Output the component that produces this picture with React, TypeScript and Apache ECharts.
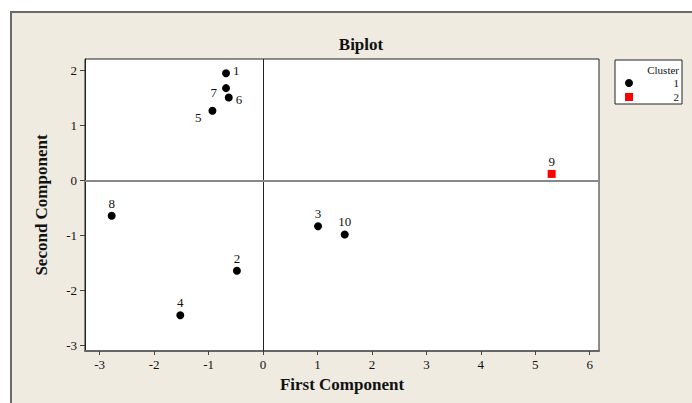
import React, { useEffect, useRef } from "react";
import * as echarts from "echarts";

// ---- data ----
const pointNames = ["1", "2", "3", "4", "5", "6", "7", "8", "9", "10"];
const firstComponent = [-0.68, -0.48, 1.01, -1.52, -0.93, -0.63, -0.68, -2.78, 5.3, 1.5];
const secondComponent = [1.95, -1.64, -0.83, -2.45, 1.27, 1.51, 1.68, -0.64, 0.12, -0.98];
const clusterOf = [1, 1, 1, 1, 1, 1, 1, 1, 2, 1];
const clusterNames = ["1", "2"];
const xTicks = [-3, -2, -1, 0, 1, 2, 3, 4, 5, 6];
const yTicks = [-3, -2, -1, 0, 1, 2];

// ---- label placement (style) ----
const labelPlacement: Record<string, { position: string; offset: number[] }> = {
  "1": { position: "right", offset: [0, -3] },
  "6": { position: "right", offset: [0, 2] },
  "7": { position: "left", offset: [-2, 4] },
  "5": { position: "left", offset: [-4, 7] },
};

const SERIF = "'Liberation Serif', 'Times New Roman', serif";

function buildData(cluster: number) {
  const out: any[] = [];
  pointNames.forEach((n, i) => {
    if (clusterOf[i] !== cluster) return;
    const lp = labelPlacement[n] || { position: "top", offset: [0, 1] };
    out.push({
      name: n,
      value: [firstComponent[i], secondComponent[i]],
      label: { position: lp.position, offset: lp.offset },
    });
  });
  return out;
}

export default function App() {
  const ref = useRef<HTMLDivElement>(null);
  useEffect(() => {
    if (!ref.current) return;
    const chart = echarts.init(ref.current, undefined, { renderer: "svg" });
    const labelStyle = {
      show: true,
      formatter: "{b}",
      color: "#111",
      fontFamily: SERIF,
      fontSize: 13,
      distance: 3,
    };
    const legendText = (text: string, y: number) => ({
      type: "text",
      x: 679,
      y,
      style: {
        text,
        align: "right",
        verticalAlign: "middle",
        fontFamily: SERIF,
        fontSize: 11,
        fill: "#111",
      },
    });
    chart.setOption({
      animation: false,
      backgroundColor: "#ffffff",
      title: {
        text: "Biplot",
        left: 356,
        textAlign: "center",
        top: 31,
        textStyle: { fontFamily: SERIF, fontWeight: "bold", fontSize: 17, color: "#111" },
      },
      graphic: [
        {
          type: "rect",
          z: -100,
          shape: { x: 11, y: 12, width: 700, height: 420 },
          style: { fill: "#EFEBE1", stroke: "#6a6a6a", lineWidth: 2 },
          silent: true,
        },
        {
          type: "group",
          z: 100,
          children: [
            {
              type: "rect",
              shape: { x: 615, y: 60, width: 67, height: 44 },
              style: { fill: "#ffffff", stroke: "#222", lineWidth: 1 },
            },
            legendText("Cluster", 70),
            { type: "circle", shape: { cx: 629, cy: 83, r: 4 }, style: { fill: "#000" } },
            legendText(clusterNames[0], 83),
            { type: "rect", shape: { x: 625, y: 93, width: 8, height: 8 }, style: { fill: "#ff0000" } },
            legendText(clusterNames[1], 97),
          ],
        },
      ],
      grid: {
        left: 85,
        top: 59,
        right: 93,
        bottom: 52,
        show: true,
        backgroundColor: "#ffffff",
        borderColor: "#222",
        borderWidth: 1,
        containLabel: false,
      },
      xAxis: {
        type: "value",
        min: -3.27,
        max: 6.17,
        name: "First Component",
        nameLocation: "middle",
        nameGap: 24,
        nameTextStyle: { fontFamily: SERIF, fontWeight: "bold", fontSize: 17, color: "#111" },
        axisLine: { show: true, onZero: false, lineStyle: { color: "#666", width: 2 } },
        axisTick: { show: true, length: 4, customValues: xTicks, lineStyle: { color: "#444" } },
        axisLabel: {
          customValues: xTicks,
          margin: 7,
          fontFamily: SERIF,
          fontSize: 13,
          color: "#111",
        },
        splitLine: { show: false },
      },
      yAxis: {
        type: "value",
        min: -3.1,
        max: 2.21,
        name: "Second Component",
        nameLocation: "middle",
        nameGap: 35,
        nameRotate: 90,
        nameTextStyle: { fontFamily: SERIF, fontWeight: "bold", fontSize: 17, color: "#111" },
        axisLine: { show: true, onZero: false, lineStyle: { color: "#222", width: 1 } },
        axisTick: { show: true, length: 5, customValues: yTicks, lineStyle: { color: "#444" } },
        axisLabel: {
          customValues: yTicks,
          margin: 8,
          fontFamily: SERIF,
          fontSize: 13,
          color: "#111",
        },
        splitLine: { show: false },
      },
      series: [
        {
          type: "scatter",
          name: clusterNames[0],
          symbol: "circle",
          symbolSize: 8,
          itemStyle: { color: "#000", opacity: 1 },
          label: labelStyle,
          data: buildData(1),
          markLine: {
            silent: true,
            symbol: "none",
            label: { show: false },
            data: [
              { xAxis: 0, lineStyle: { color: "#222", width: 1, type: "solid" } },
              { yAxis: 0, lineStyle: { color: "#888", width: 2, type: "solid" } },
            ],
          },
        },
        {
          type: "scatter",
          name: clusterNames[1],
          symbol: "rect",
          symbolSize: 8,
          itemStyle: { color: "#ff0000", opacity: 1 },
          label: labelStyle,
          data: buildData(2),
        },
      ],
    });
    return () => chart.dispose();
  }, []);
  return (
    <div
      ref={ref}
      style={{ position: "absolute", left: 0, top: 0, width: 692, height: 403 }}
    />
  );
}
